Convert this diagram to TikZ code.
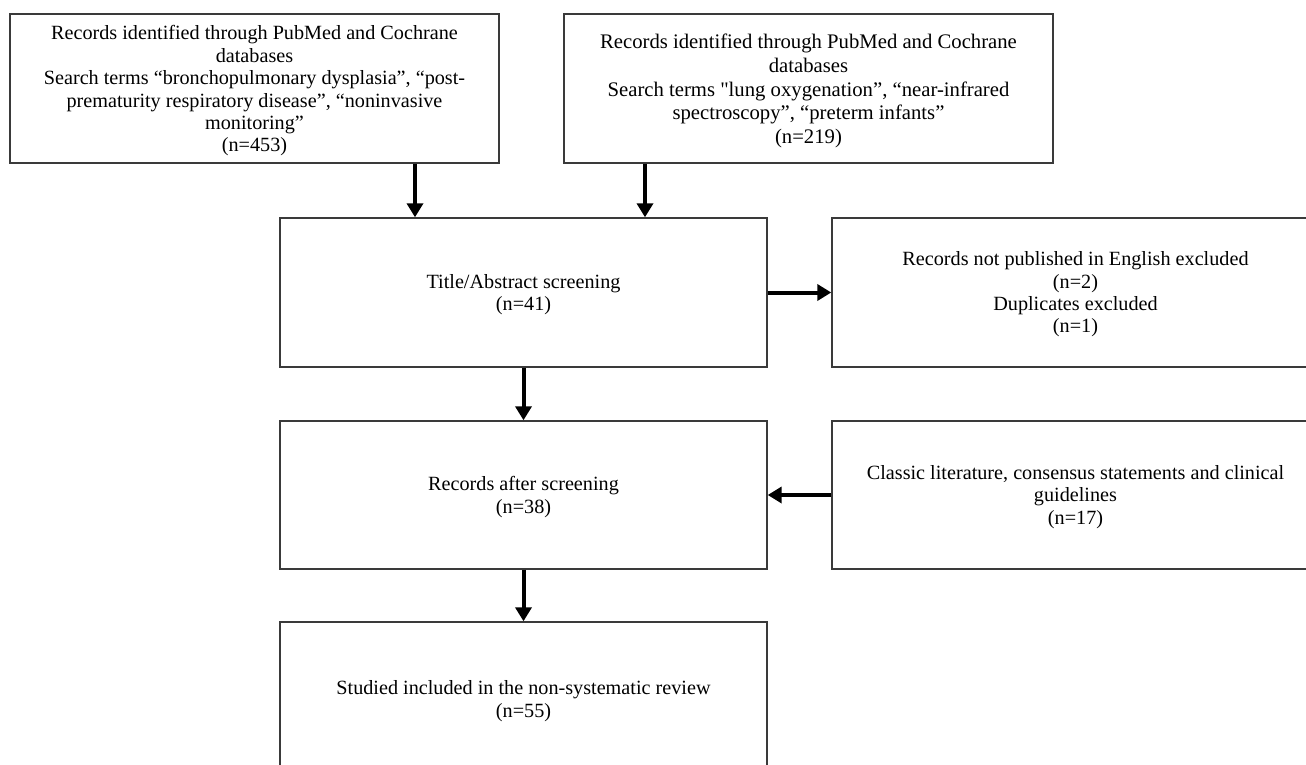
\documentclass[tikz,border=0pt]{standalone}
\usepackage{fontspec}
\setmainfont{Liberation Serif}[Ligatures=TeXOff]
\usetikzlibrary{arrows.meta}
\definecolor{boxline}{HTML}{3A3A3A}
\tikzset{
  flowbox/.style={draw=boxline, line width=1.4pt, rectangle, inner sep=0pt},
  boxtext/.style={inner sep=0pt, align=center, font=\fontsize{20.2}{22.4}\selectfont},
  bigtext/.style={inner sep=0pt, align=center, font=\fontsize{20.7}{23.7}\selectfont},
  arr/.style={line width=4pt, -{Triangle[width=16pt,length=14pt]}, black}
}
\begin{document}
\begin{tikzpicture}[x=1pt,y=-1pt]
\useasboundingbox (0,0) rectangle (1306,765);
\clip (0,0) rectangle (1306,765);
\node[flowbox, minimum width=489pt, minimum height=149pt] (A) at (254.5,88.5) {};
\node[boxtext] (At) at ([yshift=-2.5pt]A.center)
  {Records identified through PubMed and Cochrane\\databases\\Search terms “bronchopulmonary dysplasia”, “post-\\prematurity respiratory disease”, “noninvasive\\monitoring”\\(n=453)};
\node[flowbox, minimum width=489pt, minimum height=149pt] (B) at (808.5,88.5) {};
\node[bigtext] (Bt) at ([yshift=-2.5pt]B.center)
  {Records identified through PubMed and Cochrane\\databases\\Search terms "lung oxygenation”, “near-infrared\\spectroscopy”, “preterm infants”\\(n=219)};
\node[flowbox, minimum width=487pt, minimum height=149pt] (C) at (523.5,292.5) {};
\node[boxtext] (Ct) at ([yshift=-2pt]C.center) {Title/Abstract screening\\(n=41)};
\node[flowbox, minimum width=487pt, minimum height=149pt] (D) at (1075.5,292.5) {};
\node[boxtext] (Dt) at ([yshift=-2pt]D.center)
  {Records not published in English excluded\\(n=2)\\Duplicates excluded\\(n=1)};
\node[flowbox, minimum width=487pt, minimum height=148pt] (E) at (523.5,495) {};
\node[boxtext] (Et) at ([yshift=-2pt]E.center) {Records after screening\\(n=38)};
\node[flowbox, minimum width=487pt, minimum height=148pt] (F) at (1075.5,495) {};
\node[boxtext] (Ft) at ([yshift=-2pt]F.center)
  {Classic literature, consensus statements and clinical\\guidelines\\(n=17)};
\node[flowbox, minimum width=487pt, minimum height=154pt] (G) at (523.5,699) {};
\node[boxtext] (Gt) at ([yshift=-2pt]G.center) {Studied included in the non-systematic review\\(n=55)};
\coordinate (ax) at (415,0);
\coordinate (bx) at (645,0);
\draw[arr] (A.south -| ax) -- (C.north -| ax);
\draw[arr] (B.south -| bx) -- (C.north -| bx);
\draw[arr] (C.east) -- (D.west);
\draw[arr] (C.south) -- (E.north);
\draw[arr] (F.west) -- (E.east);
\draw[arr] (E.south) -- (G.north);
\end{tikzpicture}
\end{document}
